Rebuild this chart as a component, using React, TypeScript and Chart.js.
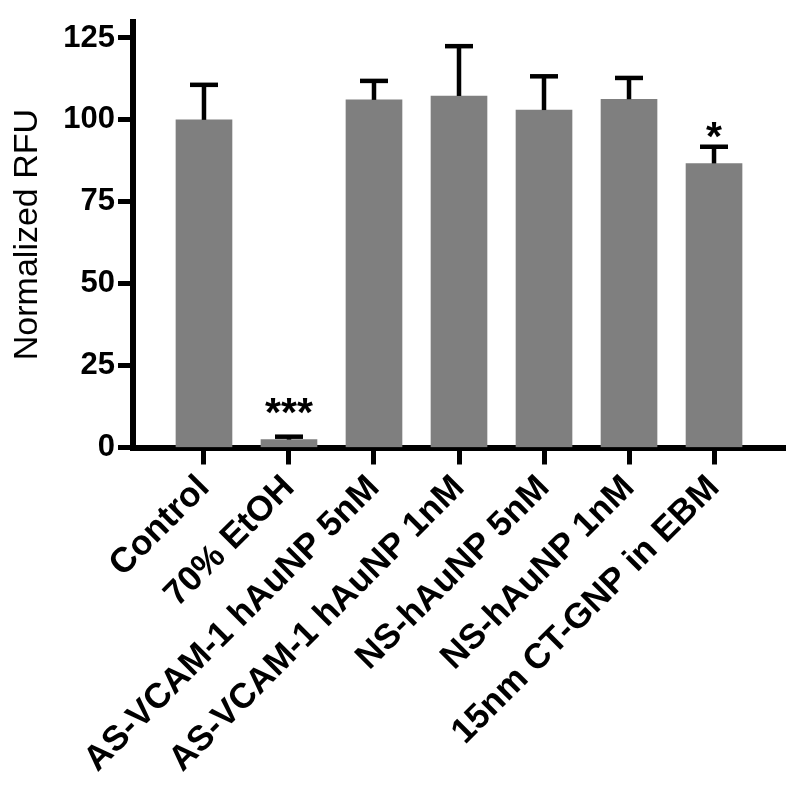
import { useEffect, useRef } from "react";
import { Chart, registerables } from "chart.js";

Chart.register(...registerables);

const categories = [
  "Control",
  "70% EtOH",
  "AS-VCAM-1 hAuNP 5nM",
  "AS-VCAM-1 hAuNP 1nM",
  "NS-hAuNP 5nM",
  "NS-hAuNP 1nM",
  "15nm CT-GNP in EBM",
];
const means = [100, 2.4, 106.1, 107.3, 103.0, 106.3, 86.7];
const errorTops = [110.7, 3.3, 111.9, 122.5, 113.3, 112.8, 91.8];
const sigMarks = ["", "***", "", "", "", "", "*"];
const sigY = [0, 13.6, 0, 0, 0, 0, 98];
const yTicks = [0, 25, 50, 75, 100, 125];

const FAMILY = '"Liberation Sans", Arial, Helvetica, sans-serif';

const errorPlugin = {
  id: "errorBars",
  afterDatasetsDraw(chart: any) {
    const { ctx } = chart;
    const x = chart.scales.x;
    const y = chart.scales.y;
    ctx.save();
    ctx.strokeStyle = "#000";
    ctx.lineWidth = 4.5;
    ctx.lineCap = "butt";
    means.forEach((m, i) => {
      const px = x.getPixelForValue(i);
      const top = y.getPixelForValue(errorTops[i]);
      const base = y.getPixelForValue(m);
      ctx.beginPath();
      ctx.moveTo(px, base);
      ctx.lineTo(px, top);
      ctx.stroke();
      ctx.beginPath();
      ctx.moveTo(px - 14, top);
      ctx.lineTo(px + 14, top);
      ctx.stroke();
    });
    const size = 41;
    ctx.fillStyle = "#000";
    ctx.font = `bold ${size}px ${FAMILY}`;
    ctx.textAlign = "center";
    ctx.textBaseline = "alphabetic";
    sigMarks.forEach((s, i) => {
      if (!s) return;
      const px = x.getPixelForValue(i);
      const py = y.getPixelForValue(sigY[i]);
      ctx.fillText(s, px, py + size * 0.57);
    });
    ctx.restore();
  },
};

export default function App() {
  const ref = useRef<HTMLCanvasElement | null>(null);
  useEffect(() => {
    if (!ref.current) return;
    const chart = new Chart(ref.current, {
      type: "bar",
      data: {
        datasets: [
          {
            data: means.map((v, i) => ({ x: i, y: v })),
            backgroundColor: "#7f7f7f",
            borderWidth: 0,
            barThickness: 56,
          },
        ],
      },
      options: {
        animation: false,
        responsive: true,
        maintainAspectRatio: false,
        layout: { padding: { top: 14, right: 15, left: 0, bottom: 0 } },
        plugins: { legend: { display: false }, tooltip: { enabled: false } },
        scales: {
          x: {
            type: "linear",
            offset: false,
            min: -0.835,
            max: 6.835,
            afterBuildTicks: (s: any) => {
              s.ticks = categories.map((_, i) => ({ value: i }));
            },
            afterFit: (s: any) => {
              s.height = 796 - 447.5;
            },
            ticks: {
              autoSkip: false,
              minRotation: 45,
              maxRotation: 45,
              padding: 3,
              color: "#000",
              font: { family: FAMILY, size: 35, weight: "bold" },
              callback: (v: any) => categories[Math.round(Number(v))] ?? "",
            },
            grid: {
              offset: false,
              drawOnChartArea: false,
              drawTicks: true,
              tickLength: 17,
              tickWidth: 5,
              tickColor: "#000",
            },
            border: { display: true, color: "#000", width: 6 },
          },
          y: {
            min: 0,
            max: 130,
            afterBuildTicks: (s: any) => {
              s.ticks = yTicks.map((v) => ({ value: v }));
            },
            afterFit: (s: any) => {
              s.width = 133;
            },
            ticks: {
              padding: 3,
              color: "#000",
              font: { family: FAMILY, size: 31, weight: "bold" },
              callback: (v: any) => String(v),
            },
            grid: {
              drawOnChartArea: false,
              drawTicks: true,
              tickLength: 15,
              tickWidth: 5,
              tickColor: "#000",
            },
            border: { display: true, color: "#000", width: 6 },
            title: {
              display: true,
              text: "Normalized RFU",
              color: "#000",
              font: { family: FAMILY, size: 34, weight: "normal" },
              padding: { top: 7, bottom: 0 },
            },
          },
        },
      },
      plugins: [errorPlugin],
    });
    return () => chart.destroy();
  }, []);
  return (
    <div style={{ position: "absolute", left: 0, top: 0, width: 800, height: 796, background: "#fff" }}>
      <canvas ref={ref} />
    </div>
  );
}
